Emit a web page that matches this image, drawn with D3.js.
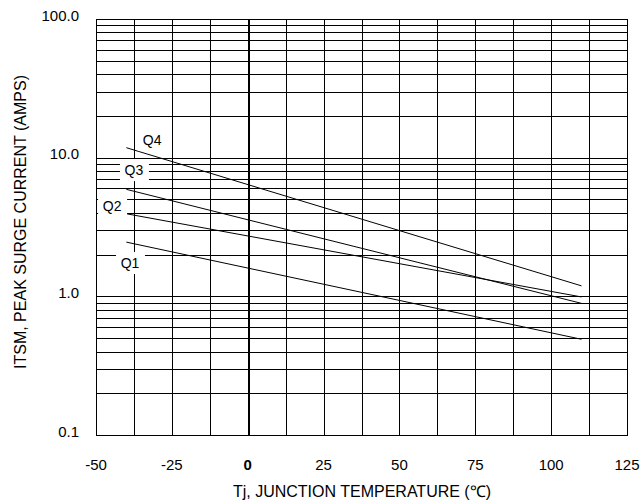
<!DOCTYPE html>
<html>
<head>
<meta charset="utf-8">
<script src="https://cdn.jsdelivr.net/npm/d3@7"></script>
<style>
  body { margin: 0; background: #fff; }
  svg { display: block; font-family: "Liberation Sans", Arial, sans-serif; }
</style>
</head>
<body>
<div id="chart"></div>
<script>
// values
var temps = [-40, 110];
var q1 = [2.46, 0.49];
var q2 = [3.94, 0.99];
var q3 = [5.91, 0.89];
var q4 = [11.8, 1.19];
var seriesNames = ["Q1", "Q2", "Q3", "Q4"];

// where the Q labels sit, in data units (temperature, amps)
var labelTemps = [-38.8, -44.7, -37.5, -31.5];
var labelAmps = [1.74, 4.52, 8.14, 13.4];

var xTicks = [-50, -25, 0, 25, 50, 75, 100, 125];
var yTicks = [0.1, 1, 10, 100];
var yTickLabels = ["0.1", "1.0", "10.0", "100.0"];

var svgWidth = 644;
var svgHeight = 502;

var margin = { top: 19, right: 17, bottom: 67, left: 96 };
var width = svgWidth - margin.left - margin.right;
var height = svgHeight - margin.top - margin.bottom;

var svg = d3.select("#chart")
  .append("svg")
  .attr("width", svgWidth)
  .attr("height", svgHeight);

var chartGroup = svg.append("g")
  .attr("transform", `translate(${margin.left}, ${margin.top})`);

var xScale = d3.scaleLinear().domain([-50, 125]).range([0, width]);
var yScale = d3.scaleLog().domain([0.1, 100]).range([height, 0]);

// grid: vertical lines every 12.5 degrees
var xGrid = d3.range(-50, 125.01, 12.5);
chartGroup.append("g")
  .selectAll("line")
  .data(xGrid)
  .enter()
  .append("line")
  .attr("x1", d => Math.round(xScale(d)) + 0.5)
  .attr("x2", d => Math.round(xScale(d)) + 0.5)
  .attr("y1", 0)
  .attr("y2", height)
  .attr("stroke", "#000")
  .attr("stroke-width", d => d === 0 ? 2 : 1)
  .attr("shape-rendering", "crispEdges");

// horizontal lines at 1..9 of every decade
var yGrid = [];
[0.1, 1, 10].forEach(function(dec) {
  for (var k = 1; k < 10; k++) yGrid.push(dec * k);
});
yGrid.push(100);

chartGroup.append("g")
  .selectAll("line")
  .data(yGrid)
  .enter()
  .append("line")
  .attr("x1", 0)
  .attr("x2", width)
  .attr("y1", d => Math.round(yScale(d)) + 0.5)
  .attr("y2", d => Math.round(yScale(d)) + 0.5)
  .attr("stroke", "#000")
  .attr("stroke-width", 1)
  .attr("shape-rendering", "crispEdges");

// frame
chartGroup.append("rect")
  .attr("x", 0.5)
  .attr("y", 0.5)
  .attr("width", Math.round(width))
  .attr("height", Math.round(height))
  .attr("fill", "none")
  .attr("stroke", "#000")
  .attr("stroke-width", 1.5)
  .attr("shape-rendering", "crispEdges");

// series lines
var allSeries = [q1, q2, q3, q4];
var line = d3.line()
  .x((d, i) => xScale(temps[i]))
  .y(d => yScale(d));

chartGroup.append("g")
  .selectAll("path")
  .data(allSeries)
  .enter()
  .append("path")
  .attr("d", d => line(d))
  .attr("fill", "none")
  .attr("stroke", "#000")
  .attr("stroke-width", 1);

// Q labels with a white box that hides the grid behind them
var labels = chartGroup.append("g")
  .selectAll("g")
  .data(seriesNames)
  .enter()
  .append("g")
  .attr("transform", (d, i) => `translate(${xScale(labelTemps[i])}, ${yScale(labelAmps[i])})`);

labels.append("rect")
  .attr("x", -14)
  .attr("y", -11)
  .attr("width", 29)
  .attr("height", 22)
  .attr("fill", "#fff");

labels.append("text")
  .attr("text-anchor", "middle")
  .attr("dy", "0.36em")
  .attr("font-size", 14)
  .attr("fill", "#000")
  .text(d => d);

// tick labels
svg.append("g")
  .selectAll("text")
  .data(xTicks)
  .enter()
  .append("text")
  .attr("x", d => margin.left + xScale(d))
  .attr("y", 470)
  .attr("text-anchor", "middle")
  .attr("font-size", 15)
  .attr("font-weight", d => d === 0 ? "bold" : "normal")
  .attr("fill", "#000")
  .text(d => d);

svg.append("g")
  .selectAll("text")
  .data(yTicks)
  .enter()
  .append("text")
  .attr("x", 79)
  .attr("y", d => margin.top + yScale(d))
  .attr("dy", "0.1em")
  .attr("text-anchor", "end")
  .attr("font-size", 15)
  .attr("fill", "#000")
  .text((d, i) => yTickLabels[i]);

// axis titles
svg.append("text")
  .attr("x", 362)
  .attr("y", 497)
  .attr("text-anchor", "middle")
  .attr("font-size", 16)
  .attr("fill", "#000")
  .text("Tj, JUNCTION TEMPERATURE (℃)");

svg.append("text")
  .attr("transform", "translate(26, 222) rotate(-90)")
  .attr("text-anchor", "middle")
  .attr("font-size", 16)
  .attr("fill", "#000")
  .text("ITSM, PEAK SURGE CURRENT (AMPS)");
</script>
</body>
</html>
